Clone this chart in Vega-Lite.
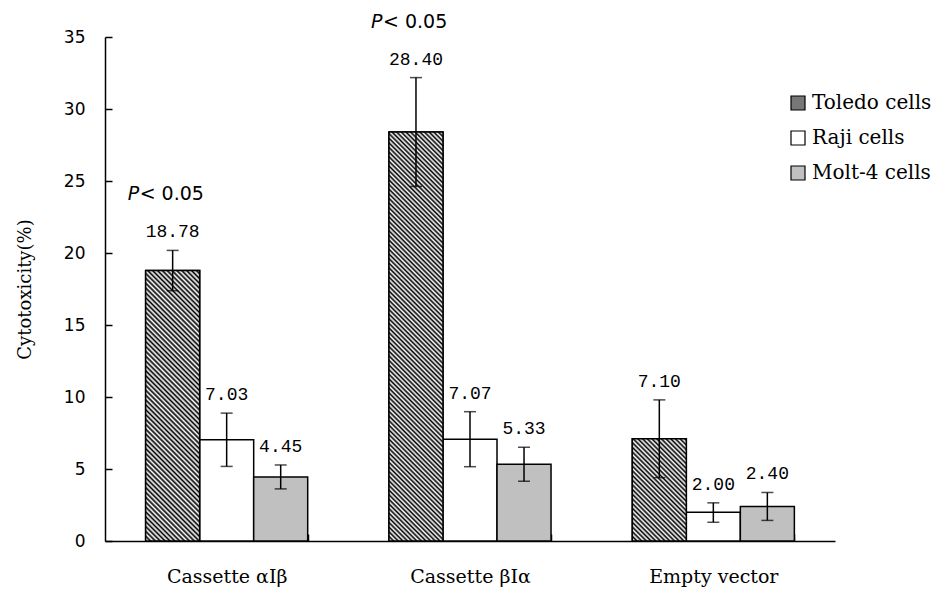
{
  "$schema": "https://vega.github.io/schema/vega-lite/v6.json",
  "width": 730,
  "height": 504,
  "autosize": "none",
  "padding": {"left": 105, "top": 37, "right": 100, "bottom": 54},
  "background": "white",
  "config": {
    "view": {"stroke": null},
    "axis": {"grid": false, "domainColor": "black", "tickColor": "black", "labelColor": "black", "titleColor": "black", "domainWidth": 1.5, "tickWidth": 1.5}
  },
  "data": {
    "values": [
      {"group": "Cassette αIβ", "cell": "Toledo cells", "value": 18.78, "lo": 17.38, "hi": 20.18, "sig": true},
      {"group": "Cassette αIβ", "cell": "Raji cells", "value": 7.03, "lo": 5.18, "hi": 8.88, "sig": false},
      {"group": "Cassette αIβ", "cell": "Molt-4 cells", "value": 4.45, "lo": 3.62, "hi": 5.28, "sig": false},
      {"group": "Cassette βIα", "cell": "Toledo cells", "value": 28.40, "lo": 24.62, "hi": 32.18, "sig": true},
      {"group": "Cassette βIα", "cell": "Raji cells", "value": 7.07, "lo": 5.16, "hi": 8.98, "sig": false},
      {"group": "Cassette βIα", "cell": "Molt-4 cells", "value": 5.33, "lo": 4.15, "hi": 6.51, "sig": false},
      {"group": "Empty vector", "cell": "Toledo cells", "value": 7.10, "lo": 4.4, "hi": 9.8, "sig": false},
      {"group": "Empty vector", "cell": "Raji cells", "value": 2.00, "lo": 1.3, "hi": 2.65, "sig": false},
      {"group": "Empty vector", "cell": "Molt-4 cells", "value": 2.40, "lo": 1.43, "hi": 3.37, "sig": false}
    ]
  },
  "encoding": {
    "x": {
      "field": "group", "type": "nominal",
      "sort": ["Cassette αIβ", "Cassette βIα", "Empty vector"],
      "scale": {"paddingInner": 0.334, "paddingOuter": 0.167},
      "axis": {"title": null, "tickBand": "extent", "tickSize": -7, "labelPadding": 33, "labelAngle": 0, "labelFont": "DejaVu Serif", "labelFontSize": 19}
    },
    "xOffset": {
      "field": "cell", "type": "nominal",
      "scale": {"domain": ["Toledo cells", "Raji cells", "Molt-4 cells"], "paddingInner": 0, "paddingOuter": 0}
    }
  },
  "layer": [
    {
      "mark": {"type": "bar", "stroke": "black", "strokeWidth": 1.5},
      "encoding": {
        "y": {
          "field": "value", "type": "quantitative",
          "scale": {"domain": [0, 35], "nice": false},
          "axis": {"values": [0, 5, 10, 15, 20, 25, 30, 35], "tickSize": -7, "labelPadding": 27, "labelFont": "DejaVu Sans", "labelFontSize": 17, "title": "Cytotoxicity(%)", "titleFont": "DejaVu Serif", "titleFontSize": 18, "titleFontWeight": "normal", "titleX": -80, "titleY": 252, "titleBaseline": "middle", "titleAngle": -90}
        },
        "fill": {
          "field": "cell", "type": "nominal",
          "scale": {
            "domain": ["Toledo cells", "Raji cells", "Molt-4 cells"],
            "range": ["#777777", "#ffffff", "#c0c0c0"]
          },
          "legend": {
            "title": null, "orient": "none", "legendX": 683, "legendY": 56, "padding": 0, "symbolType": "square", "symbolSize": 196, "symbolStrokeColor": "black", "symbolStrokeWidth": 1.2, "labelFont": "DejaVu Serif", "labelFontSize": 20, "labelColor": "black", "labelOffset": 4, "rowPadding": 15,
            "encode": {"symbols": {"update": {
              "stroke": {"value": "black"},
              "strokeWidth": {"value": 1.2},
              "fill": [
              {"test": "datum.value === 'Toledo cells'", "value": {"gradient": "linear", "x1": 0, "y1": 1, "x2": 1, "y2": 0, "stops": [
                {"offset": 0, "color": "#000"}, {"offset": 0.09, "color": "#fff"}, {"offset": 0.18, "color": "#000"}, {"offset": 0.27, "color": "#fff"}, {"offset": 0.36, "color": "#000"}, {"offset": 0.45, "color": "#fff"}, {"offset": 0.54, "color": "#000"}, {"offset": 0.63, "color": "#fff"}, {"offset": 0.72, "color": "#000"}, {"offset": 0.81, "color": "#fff"}, {"offset": 0.9, "color": "#000"}, {"offset": 0.99, "color": "#fff"}
              ]}},
              {"test": "datum.value === 'Raji cells'", "value": "#ffffff"},
              {"value": "#c0c0c0"}
            ]}}}
          }
        }
      }
    },
    {
      "transform": [{"filter": "datum.cell === 'Toledo cells'"}],
      "mark": {"type": "bar", "stroke": "black", "strokeWidth": 1.5},
      "encoding": {
        "y": {"field": "value", "type": "quantitative"},
        "fill": {
          "condition": [
            {"test": "datum.group === 'Cassette αIβ'", "value": {"gradient": "linear", "x1": 0, "y1": 1, "x2": 0.2304, "y2": -0.1537, "stops": [
{"offset":0,"color":"#000"},{"offset":0.0075,"color":"#fff"},{"offset":0.015,"color":"#000"},{"offset":0.0225,"color":"#fff"},{"offset":0.03,"color":"#000"},{"offset":0.0375,"color":"#fff"},{"offset":0.045,"color":"#000"},{"offset":0.0525,"color":"#fff"},{"offset":0.06,"color":"#000"},{"offset":0.0675,"color":"#fff"},
{"offset":0.075,"color":"#000"},{"offset":0.0825,"color":"#fff"},{"offset":0.09,"color":"#000"},{"offset":0.0975,"color":"#fff"},{"offset":0.105,"color":"#000"},{"offset":0.1125,"color":"#fff"},{"offset":0.12,"color":"#000"},{"offset":0.1275,"color":"#fff"},{"offset":0.135,"color":"#000"},{"offset":0.1425,"color":"#fff"},
{"offset":0.15,"color":"#000"},{"offset":0.1575,"color":"#fff"},{"offset":0.165,"color":"#000"},{"offset":0.1725,"color":"#fff"},{"offset":0.18,"color":"#000"},{"offset":0.1875,"color":"#fff"},{"offset":0.195,"color":"#000"},{"offset":0.2025,"color":"#fff"},{"offset":0.21,"color":"#000"},{"offset":0.2175,"color":"#fff"},
{"offset":0.225,"color":"#000"},{"offset":0.2325,"color":"#fff"},{"offset":0.24,"color":"#000"},{"offset":0.2475,"color":"#fff"},{"offset":0.255,"color":"#000"},{"offset":0.2625,"color":"#fff"},{"offset":0.27,"color":"#000"},{"offset":0.2775,"color":"#fff"},{"offset":0.285,"color":"#000"},{"offset":0.2925,"color":"#fff"},
{"offset":0.3,"color":"#000"},{"offset":0.3075,"color":"#fff"},{"offset":0.315,"color":"#000"},{"offset":0.3225,"color":"#fff"},{"offset":0.33,"color":"#000"},{"offset":0.3375,"color":"#fff"},{"offset":0.345,"color":"#000"},{"offset":0.3525,"color":"#fff"},{"offset":0.36,"color":"#000"},{"offset":0.3675,"color":"#fff"},
{"offset":0.375,"color":"#000"},{"offset":0.3825,"color":"#fff"},{"offset":0.39,"color":"#000"},{"offset":0.3975,"color":"#fff"},{"offset":0.405,"color":"#000"},{"offset":0.4125,"color":"#fff"},{"offset":0.42,"color":"#000"},{"offset":0.4275,"color":"#fff"},{"offset":0.435,"color":"#000"},{"offset":0.4425,"color":"#fff"},
{"offset":0.45,"color":"#000"},{"offset":0.4575,"color":"#fff"},{"offset":0.465,"color":"#000"},{"offset":0.4725,"color":"#fff"},{"offset":0.48,"color":"#000"},{"offset":0.4875,"color":"#fff"},{"offset":0.495,"color":"#000"},{"offset":0.5025,"color":"#fff"},{"offset":0.51,"color":"#000"},{"offset":0.5175,"color":"#fff"},
{"offset":0.525,"color":"#000"},{"offset":0.5325,"color":"#fff"},{"offset":0.54,"color":"#000"},{"offset":0.5475,"color":"#fff"},{"offset":0.555,"color":"#000"},{"offset":0.5625,"color":"#fff"},{"offset":0.57,"color":"#000"},{"offset":0.5775,"color":"#fff"},{"offset":0.585,"color":"#000"},{"offset":0.5925,"color":"#fff"},
{"offset":0.6,"color":"#000"},{"offset":0.6075,"color":"#fff"},{"offset":0.615,"color":"#000"},{"offset":0.6225,"color":"#fff"},{"offset":0.63,"color":"#000"},{"offset":0.6375,"color":"#fff"},{"offset":0.645,"color":"#000"},{"offset":0.6525,"color":"#fff"},{"offset":0.66,"color":"#000"},{"offset":0.6675,"color":"#fff"},
{"offset":0.675,"color":"#000"},{"offset":0.6825,"color":"#fff"},{"offset":0.69,"color":"#000"},{"offset":0.6975,"color":"#fff"},{"offset":0.705,"color":"#000"},{"offset":0.7125,"color":"#fff"},{"offset":0.72,"color":"#000"},{"offset":0.7275,"color":"#fff"},{"offset":0.735,"color":"#000"},{"offset":0.7425,"color":"#fff"},
{"offset":0.75,"color":"#000"},{"offset":0.7575,"color":"#fff"},{"offset":0.765,"color":"#000"},{"offset":0.7725,"color":"#fff"},{"offset":0.78,"color":"#000"},{"offset":0.7875,"color":"#fff"},{"offset":0.795,"color":"#000"},{"offset":0.8025,"color":"#fff"},{"offset":0.81,"color":"#000"},{"offset":0.8175,"color":"#fff"},
{"offset":0.825,"color":"#000"},{"offset":0.8325,"color":"#fff"},{"offset":0.84,"color":"#000"},{"offset":0.8475,"color":"#fff"},{"offset":0.855,"color":"#000"},{"offset":0.8625,"color":"#fff"},{"offset":0.87,"color":"#000"},{"offset":0.8775,"color":"#fff"},{"offset":0.885,"color":"#000"},{"offset":0.8925,"color":"#fff"},
{"offset":0.9,"color":"#000"},{"offset":0.9075,"color":"#fff"},{"offset":0.915,"color":"#000"},{"offset":0.9225,"color":"#fff"},{"offset":0.93,"color":"#000"},{"offset":0.9375,"color":"#fff"},{"offset":0.945,"color":"#000"},{"offset":0.9525,"color":"#fff"},{"offset":0.96,"color":"#000"},{"offset":0.9675,"color":"#fff"},
{"offset":0.975,"color":"#000"},{"offset":0.9825,"color":"#fff"},{"offset":0.99,"color":"#000"},{"offset":0.9975,"color":"#fff"}
            ]}},
            {"test": "datum.group === 'Cassette βIα'", "value": {"gradient": "linear", "x1": 0, "y1": 1, "x2": 0.1469, "y2": -0.1127, "stops": [
{"offset":0,"color":"#000"},{"offset":0.005,"color":"#fff"},{"offset":0.01,"color":"#000"},{"offset":0.015,"color":"#fff"},{"offset":0.02,"color":"#000"},{"offset":0.025,"color":"#fff"},{"offset":0.03,"color":"#000"},{"offset":0.035,"color":"#fff"},{"offset":0.04,"color":"#000"},{"offset":0.045,"color":"#fff"},
{"offset":0.05,"color":"#000"},{"offset":0.055,"color":"#fff"},{"offset":0.06,"color":"#000"},{"offset":0.065,"color":"#fff"},{"offset":0.07,"color":"#000"},{"offset":0.075,"color":"#fff"},{"offset":0.08,"color":"#000"},{"offset":0.085,"color":"#fff"},{"offset":0.09,"color":"#000"},{"offset":0.095,"color":"#fff"},
{"offset":0.1,"color":"#000"},{"offset":0.105,"color":"#fff"},{"offset":0.11,"color":"#000"},{"offset":0.115,"color":"#fff"},{"offset":0.12,"color":"#000"},{"offset":0.125,"color":"#fff"},{"offset":0.13,"color":"#000"},{"offset":0.135,"color":"#fff"},{"offset":0.14,"color":"#000"},{"offset":0.145,"color":"#fff"},
{"offset":0.15,"color":"#000"},{"offset":0.155,"color":"#fff"},{"offset":0.16,"color":"#000"},{"offset":0.165,"color":"#fff"},{"offset":0.17,"color":"#000"},{"offset":0.175,"color":"#fff"},{"offset":0.18,"color":"#000"},{"offset":0.185,"color":"#fff"},{"offset":0.19,"color":"#000"},{"offset":0.195,"color":"#fff"},
{"offset":0.2,"color":"#000"},{"offset":0.205,"color":"#fff"},{"offset":0.21,"color":"#000"},{"offset":0.215,"color":"#fff"},{"offset":0.22,"color":"#000"},{"offset":0.225,"color":"#fff"},{"offset":0.23,"color":"#000"},{"offset":0.235,"color":"#fff"},{"offset":0.24,"color":"#000"},{"offset":0.245,"color":"#fff"},
{"offset":0.25,"color":"#000"},{"offset":0.255,"color":"#fff"},{"offset":0.26,"color":"#000"},{"offset":0.265,"color":"#fff"},{"offset":0.27,"color":"#000"},{"offset":0.275,"color":"#fff"},{"offset":0.28,"color":"#000"},{"offset":0.285,"color":"#fff"},{"offset":0.29,"color":"#000"},{"offset":0.295,"color":"#fff"},
{"offset":0.3,"color":"#000"},{"offset":0.305,"color":"#fff"},{"offset":0.31,"color":"#000"},{"offset":0.315,"color":"#fff"},{"offset":0.32,"color":"#000"},{"offset":0.325,"color":"#fff"},{"offset":0.33,"color":"#000"},{"offset":0.335,"color":"#fff"},{"offset":0.34,"color":"#000"},{"offset":0.345,"color":"#fff"},
{"offset":0.35,"color":"#000"},{"offset":0.355,"color":"#fff"},{"offset":0.36,"color":"#000"},{"offset":0.365,"color":"#fff"},{"offset":0.37,"color":"#000"},{"offset":0.375,"color":"#fff"},{"offset":0.38,"color":"#000"},{"offset":0.385,"color":"#fff"},{"offset":0.39,"color":"#000"},{"offset":0.395,"color":"#fff"},
{"offset":0.4,"color":"#000"},{"offset":0.405,"color":"#fff"},{"offset":0.41,"color":"#000"},{"offset":0.415,"color":"#fff"},{"offset":0.42,"color":"#000"},{"offset":0.425,"color":"#fff"},{"offset":0.43,"color":"#000"},{"offset":0.435,"color":"#fff"},{"offset":0.44,"color":"#000"},{"offset":0.445,"color":"#fff"},
{"offset":0.45,"color":"#000"},{"offset":0.455,"color":"#fff"},{"offset":0.46,"color":"#000"},{"offset":0.465,"color":"#fff"},{"offset":0.47,"color":"#000"},{"offset":0.475,"color":"#fff"},{"offset":0.48,"color":"#000"},{"offset":0.485,"color":"#fff"},{"offset":0.49,"color":"#000"},{"offset":0.495,"color":"#fff"},
{"offset":0.5,"color":"#000"},{"offset":0.505,"color":"#fff"},{"offset":0.51,"color":"#000"},{"offset":0.515,"color":"#fff"},{"offset":0.52,"color":"#000"},{"offset":0.525,"color":"#fff"},{"offset":0.53,"color":"#000"},{"offset":0.535,"color":"#fff"},{"offset":0.54,"color":"#000"},{"offset":0.545,"color":"#fff"},
{"offset":0.55,"color":"#000"},{"offset":0.555,"color":"#fff"},{"offset":0.56,"color":"#000"},{"offset":0.565,"color":"#fff"},{"offset":0.57,"color":"#000"},{"offset":0.575,"color":"#fff"},{"offset":0.58,"color":"#000"},{"offset":0.585,"color":"#fff"},{"offset":0.59,"color":"#000"},{"offset":0.595,"color":"#fff"},
{"offset":0.6,"color":"#000"},{"offset":0.605,"color":"#fff"},{"offset":0.61,"color":"#000"},{"offset":0.615,"color":"#fff"},{"offset":0.62,"color":"#000"},{"offset":0.625,"color":"#fff"},{"offset":0.63,"color":"#000"},{"offset":0.635,"color":"#fff"},{"offset":0.64,"color":"#000"},{"offset":0.645,"color":"#fff"},
{"offset":0.65,"color":"#000"},{"offset":0.655,"color":"#fff"},{"offset":0.66,"color":"#000"},{"offset":0.665,"color":"#fff"},{"offset":0.67,"color":"#000"},{"offset":0.675,"color":"#fff"},{"offset":0.68,"color":"#000"},{"offset":0.685,"color":"#fff"},{"offset":0.69,"color":"#000"},{"offset":0.695,"color":"#fff"},
{"offset":0.7,"color":"#000"},{"offset":0.705,"color":"#fff"},{"offset":0.71,"color":"#000"},{"offset":0.715,"color":"#fff"},{"offset":0.72,"color":"#000"},{"offset":0.725,"color":"#fff"},{"offset":0.73,"color":"#000"},{"offset":0.735,"color":"#fff"},{"offset":0.74,"color":"#000"},{"offset":0.745,"color":"#fff"},
{"offset":0.75,"color":"#000"},{"offset":0.755,"color":"#fff"},{"offset":0.76,"color":"#000"},{"offset":0.765,"color":"#fff"},{"offset":0.77,"color":"#000"},{"offset":0.775,"color":"#fff"},{"offset":0.78,"color":"#000"},{"offset":0.785,"color":"#fff"},{"offset":0.79,"color":"#000"},{"offset":0.795,"color":"#fff"},
{"offset":0.8,"color":"#000"},{"offset":0.805,"color":"#fff"},{"offset":0.81,"color":"#000"},{"offset":0.815,"color":"#fff"},{"offset":0.82,"color":"#000"},{"offset":0.825,"color":"#fff"},{"offset":0.83,"color":"#000"},{"offset":0.835,"color":"#fff"},{"offset":0.84,"color":"#000"},{"offset":0.845,"color":"#fff"},
{"offset":0.85,"color":"#000"},{"offset":0.855,"color":"#fff"},{"offset":0.86,"color":"#000"},{"offset":0.865,"color":"#fff"},{"offset":0.87,"color":"#000"},{"offset":0.875,"color":"#fff"},{"offset":0.88,"color":"#000"},{"offset":0.885,"color":"#fff"},{"offset":0.89,"color":"#000"},{"offset":0.895,"color":"#fff"},
{"offset":0.9,"color":"#000"},{"offset":0.905,"color":"#fff"},{"offset":0.91,"color":"#000"},{"offset":0.915,"color":"#fff"},{"offset":0.92,"color":"#000"},{"offset":0.925,"color":"#fff"},{"offset":0.93,"color":"#000"},{"offset":0.935,"color":"#fff"},{"offset":0.94,"color":"#000"},{"offset":0.945,"color":"#fff"},
{"offset":0.95,"color":"#000"},{"offset":0.955,"color":"#fff"},{"offset":0.96,"color":"#000"},{"offset":0.965,"color":"#fff"},{"offset":0.97,"color":"#000"},{"offset":0.975,"color":"#fff"},{"offset":0.98,"color":"#000"},{"offset":0.985,"color":"#fff"},{"offset":0.99,"color":"#000"},{"offset":0.995,"color":"#fff"},
{"offset":1,"color":"#000"}
            ]}}
          ],
          "value": {"gradient": "linear", "x1": 0, "y1": 1, "x2": 0.6313, "y2": -0.1948, "stops": [
{"offset":0,"color":"#000"},{"offset":0.015,"color":"#fff"},{"offset":0.03,"color":"#000"},{"offset":0.045,"color":"#fff"},{"offset":0.06,"color":"#000"},{"offset":0.075,"color":"#fff"},{"offset":0.09,"color":"#000"},{"offset":0.105,"color":"#fff"},{"offset":0.12,"color":"#000"},{"offset":0.135,"color":"#fff"},
{"offset":0.15,"color":"#000"},{"offset":0.165,"color":"#fff"},{"offset":0.18,"color":"#000"},{"offset":0.195,"color":"#fff"},{"offset":0.21,"color":"#000"},{"offset":0.225,"color":"#fff"},{"offset":0.24,"color":"#000"},{"offset":0.255,"color":"#fff"},{"offset":0.27,"color":"#000"},{"offset":0.285,"color":"#fff"},
{"offset":0.3,"color":"#000"},{"offset":0.315,"color":"#fff"},{"offset":0.33,"color":"#000"},{"offset":0.345,"color":"#fff"},{"offset":0.36,"color":"#000"},{"offset":0.375,"color":"#fff"},{"offset":0.39,"color":"#000"},{"offset":0.405,"color":"#fff"},{"offset":0.42,"color":"#000"},{"offset":0.435,"color":"#fff"},
{"offset":0.45,"color":"#000"},{"offset":0.465,"color":"#fff"},{"offset":0.48,"color":"#000"},{"offset":0.495,"color":"#fff"},{"offset":0.51,"color":"#000"},{"offset":0.525,"color":"#fff"},{"offset":0.54,"color":"#000"},{"offset":0.555,"color":"#fff"},{"offset":0.57,"color":"#000"},{"offset":0.585,"color":"#fff"},
{"offset":0.6,"color":"#000"},{"offset":0.615,"color":"#fff"},{"offset":0.63,"color":"#000"},{"offset":0.645,"color":"#fff"},{"offset":0.66,"color":"#000"},{"offset":0.675,"color":"#fff"},{"offset":0.69,"color":"#000"},{"offset":0.705,"color":"#fff"},{"offset":0.72,"color":"#000"},{"offset":0.735,"color":"#fff"},
{"offset":0.75,"color":"#000"},{"offset":0.765,"color":"#fff"},{"offset":0.78,"color":"#000"},{"offset":0.795,"color":"#fff"},{"offset":0.81,"color":"#000"},{"offset":0.825,"color":"#fff"},{"offset":0.84,"color":"#000"},{"offset":0.855,"color":"#fff"},{"offset":0.87,"color":"#000"},{"offset":0.885,"color":"#fff"},
{"offset":0.9,"color":"#000"},{"offset":0.915,"color":"#fff"},{"offset":0.93,"color":"#000"},{"offset":0.945,"color":"#fff"},{"offset":0.96,"color":"#000"},{"offset":0.975,"color":"#fff"},{"offset":0.99,"color":"#000"}
          ]}
        }
      }
    },
    {
      "mark": {"type": "rule", "color": "black", "strokeWidth": 1.5},
      "encoding": {"y": {"field": "lo", "type": "quantitative"}, "y2": {"field": "hi"}}
    },
    {
      "mark": {"type": "tick", "color": "black", "size": 12, "thickness": 1.5, "orient": "horizontal"},
      "encoding": {"y": {"field": "lo", "type": "quantitative"}}
    },
    {
      "mark": {"type": "tick", "color": "black", "size": 12, "thickness": 1.5, "orient": "horizontal"},
      "encoding": {"y": {"field": "hi", "type": "quantitative"}}
    },
    {
      "mark": {"type": "text", "font": "Liberation Mono", "fontSize": 18, "color": "black", "baseline": "alphabetic", "dy": -13},
      "encoding": {"y": {"field": "hi", "type": "quantitative"}, "text": {"field": "value", "type": "quantitative", "format": ".2f"}}
    },
    {
      "transform": [{"filter": "datum.sig"}],
      "mark": {"type": "text", "font": "DejaVu Sans", "fontSize": 19, "fontStyle": "italic", "color": "black", "baseline": "alphabetic", "align": "left", "dx": -45, "dy": -50},
      "encoding": {"y": {"field": "hi", "type": "quantitative"}, "text": {"value": "P"}}
    },
    {
      "transform": [{"filter": "datum.sig"}],
      "mark": {"type": "text", "font": "DejaVu Sans", "fontSize": 19, "color": "black", "baseline": "alphabetic", "align": "left", "dx": -33, "dy": -50},
      "encoding": {"y": {"field": "hi", "type": "quantitative"}, "text": {"value": "< 0.05"}}
    }
  ]
}
